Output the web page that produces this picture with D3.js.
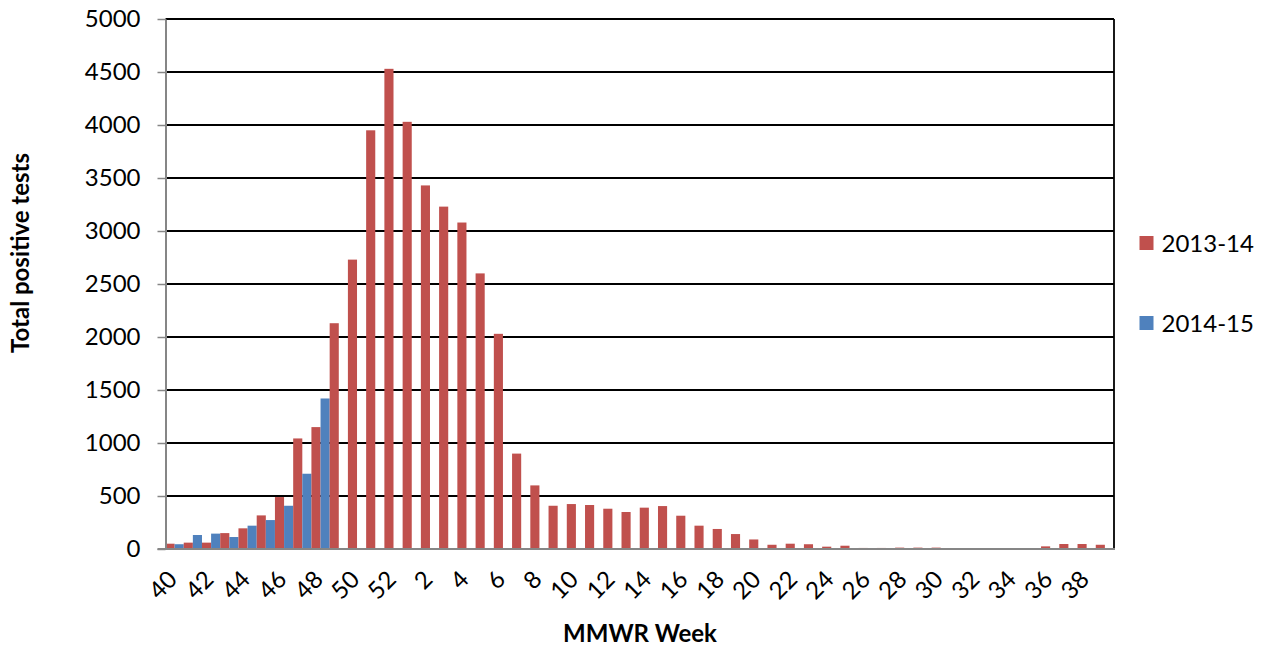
<!DOCTYPE html>
<html>
<head>
<meta charset="utf-8">
<script src="https://cdn.jsdelivr.net/npm/d3@7"></script>
<style>
  body { margin: 0; background: #fff; }
  text { font-family: Lato, "Open Sans", sans-serif; fill: #000; }
</style>
</head>
<body>
<div id="chart"></div>
<script>
// MMWR weeks, Oct -> Sep
const weeks = [40, 41, 42, 43, 44, 45, 46, 47, 48, 49, 50, 51, 52,
  1, 2, 3, 4, 5, 6, 7, 8, 9, 10, 11, 12, 13, 14, 15, 16, 17, 18, 19, 20,
  21, 22, 23, 24, 25, 26, 27, 28, 29, 30, 31, 32, 33, 34, 35, 36, 37, 38, 39];

const seasons = ["2013-14", "2014-15"];

const values1314 = [50, 60, 60, 150, 195, 317, 490, 1043, 1150, 2130, 2730, 3950, 4530,
  4030, 3430, 3230, 3080, 2600, 2030, 900, 600, 408, 424, 415, 380, 349, 390, 405, 314,
  220, 189, 141, 90, 40, 50, 45, 22, 31, 10, 10, 13, 13, 13, 8, 5, 8, 5, 8, 25, 47, 47, 40];

// current season only reported through week 48
const values1415 = [45, 132, 145, 113, 220, 273, 408, 710, 1420];

const yTicks = [0, 500, 1000, 1500, 2000, 2500, 3000, 3500, 4000, 4500, 5000];

const colors = ["#C0504D", "#4F81BD"];

const W = 1262, H = 647;
const plot = {left: 165.5, right: 1114, top: 19, bottom: 549};

const svg = d3.select("#chart")
  .append("svg")
  .attr("width", W)
  .attr("height", H);

const x = d3.scaleBand()
  .domain(weeks)
  .range([plot.left, plot.right])
  .padding(0);

const xSub = d3.scaleBand()
  .domain(seasons)
  .range([0, x.bandwidth()])
  .padding(0);

const y = d3.scaleLinear()
  .domain([0, 5000])
  .range([plot.bottom, plot.top]);

// gridlines
svg.append("g")
  .selectAll("line")
  .data(yTicks.filter(d => d > 0))
  .enter().append("line")
  .attr("x1", plot.left)
  .attr("x2", plot.right)
  .attr("y1", d => y(d))
  .attr("y2", d => y(d))
  .attr("stroke", "#000")
  .attr("stroke-width", 1.8);

// right border of plot area
svg.append("line")
  .attr("x1", plot.right).attr("x2", plot.right)
  .attr("y1", plot.top).attr("y2", plot.bottom)
  .attr("stroke", "#000")
  .attr("stroke-width", 1.8);

const rows = weeks.map((w, i) => ({
  week: w,
  idx: i,
  vals: [values1314[i], i < values1415.length ? values1415[i] : null]
}));

const group = svg.append("g")
  .selectAll("g")
  .data(rows)
  .enter().append("g")
  .attr("transform", d => `translate(${x(d.week)},0)`);

group.selectAll("rect")
  .data(d => d.vals.map((v, k) => ({season: seasons[k], k: k, v: v})).filter(e => e.v != null))
  .enter().append("rect")
  .attr("x", d => xSub(d.season))
  .attr("width", xSub.bandwidth())
  .attr("y", d => y(d.v))
  .attr("height", d => y(0) - y(d.v))
  .attr("fill", d => colors[d.k]);

// y axis
const yAxis = svg.append("g")
  .attr("transform", `translate(${plot.left},0)`)
  .call(d3.axisLeft(y).tickValues(yTicks).tickFormat(d3.format("d"))
    .tickSize(8).tickPadding(17).tickSizeOuter(0));

yAxis.select(".domain").attr("stroke", "#868686").attr("stroke-width", 2);
yAxis.selectAll(".tick line").attr("stroke", "#868686").attr("stroke-width", 1.5);
yAxis.selectAll(".tick text")
  .attr("font-size", 24)
  .attr("fill", "#000")
  .style("font-family", "Lato, sans-serif");

// x axis line
svg.append("line")
  .attr("x1", plot.left - 8)
  .attr("x2", plot.right + 1)
  .attr("y1", plot.bottom)
  .attr("y2", plot.bottom)
  .attr("stroke", "#868686")
  .attr("stroke-width", 2);

// x labels, every other week
svg.append("g")
  .selectAll("text")
  .data(weeks.filter((w, i) => i % 2 === 0))
  .enter().append("text")
  .attr("text-anchor", "end")
  .attr("font-size", 24)
  .attr("transform", d => `translate(${x(d) + x.bandwidth() / 2 + 4},${plot.bottom + 32}) rotate(-45)`)
  .text(d => d);

// axis titles
svg.append("text")
  .attr("x", 640)
  .attr("y", 642)
  .attr("text-anchor", "middle")
  .attr("font-size", 24)
  .attr("font-weight", "bold")
  .text("MMWR Week");

svg.append("text")
  .attr("transform", "translate(29,253) rotate(-90)")
  .attr("text-anchor", "middle")
  .attr("font-size", 24)
  .attr("font-weight", "bold")
  .text("Total positive tests");

// legend
const legend = svg.append("g")
  .selectAll("g")
  .data(seasons)
  .enter().append("g")
  .attr("transform", (d, i) => `translate(1139.5,${236 + i * 80})`);

legend.append("rect")
  .attr("width", 14)
  .attr("height", 14)
  .attr("fill", (d, i) => colors[i]);

legend.append("text")
  .attr("x", 22)
  .attr("y", 7)
  .attr("dy", "0.36em")
  .attr("font-size", 24)
  .text(d => d);
</script>
</body>
</html>
